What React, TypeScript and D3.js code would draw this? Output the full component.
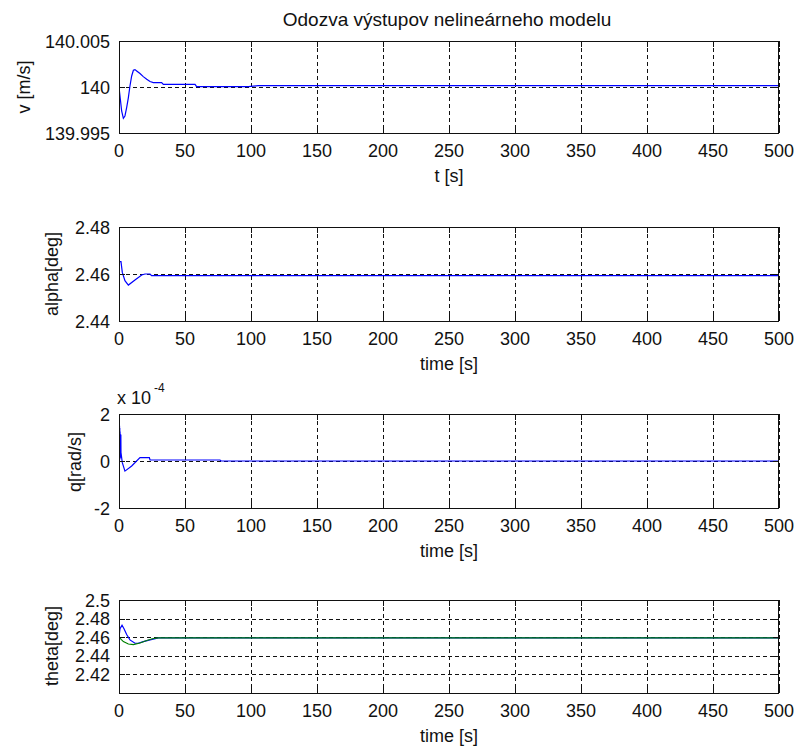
import React from 'react';
import * as d3 from 'd3';

const xTicks = [0, 50, 100, 150, 200, 250, 300, 350, 400, 450, 500];

const vTicks = [139.995, 140, 140.005];
const vTickLabels = ['139.995', '140', '140.005'];
const vTime = [0, 2.0, 3.3, 4.5, 5.8, 7.1, 8.3, 9.6, 10.9, 12.1, 13.4, 15.9, 18.4, 21, 23.5, 26, 32.3, 33.6, 57.6, 58.8, 98, 105.5, 500];
const vValues = [140, 139.99739, 139.9966, 139.99685, 139.99776, 139.99885, 140.00011, 140.0012, 140.00182, 140.00189, 140.00174, 140.00146, 140.00113, 140.00084, 140.00059, 140.00048, 140.00048, 140.00029, 140.00029, 140.00004, 140.00004, 140.00015, 140.00015];

const alphaTicks = [2.44, 2.46, 2.48];
const alphaTickLabels = ['2.44', '2.46', '2.48'];
const alphaTime = [0, 1.5, 2.5, 4.5, 7.1, 12.1, 17.2, 19.7, 23.5, 24.7, 500];
const alphaValues = [2.46525, 2.46525, 2.46068, 2.45714, 2.4553, 2.45744, 2.45957, 2.46, 2.46, 2.45927, 2.45927];

const qTicks = [-2e-4, 0, 2e-4];
const qTickLabels = ['-2', '0', '2'];
const qTime = [0, 0.1, 0.2, 0.3, 0.4, 0.5, 0.6, 0.7, 0.8, 0.9, 1.0, 1.1, 1.2, 1.3, 1.4, 1.5, 2.5, 4.5, 9.6, 15.9, 23, 23.5, 76.5, 77.3, 500];
const qValues = [1.57e-4, 0, 1.57e-4, 0.02e-4, 1.5e-4, 0.05e-4, 1.4e-4, 0.1e-4, 1.25e-4, 0.12e-4, 1.14e-4, 0.15e-4, 1.14e-4, 0.2e-4, 1.12e-4, 0.36e-4, -0.07e-4, -0.43e-4, -0.21e-4, 0.145e-4, 0.145e-4, 0.043e-4, 0.043e-4, 0, 0];

const thetaTicks = [2.42, 2.44, 2.46, 2.48, 2.5];
const thetaTickLabels = ['2.42', '2.44', '2.46', '2.48', '2.5'];
const thetaTime = [0, 0.76, 2.3, 3.8, 5.8, 8.3, 12.1, 14.6, 18.4, 23.5, 29.8, 500];
const thetaValues = [2.46, 2.4691, 2.4728, 2.4691, 2.4629, 2.4571, 2.4535, 2.4535, 2.4553, 2.4571, 2.4593, 2.4593];
const thetaRefTime = [0, 3.3, 7.1, 10.9, 15.9, 21, 26, 29.8, 500];
const thetaRefValues = [2.46, 2.4553, 2.4527, 2.452, 2.4538, 2.4564, 2.4586, 2.4593, 2.4593];

const W = 795;
const H = 746;
const LEFT = 119;
const RIGHT = 779;
const FONT = '"Liberation Sans", Arial, sans-serif';

type Series = { t: number[]; y: number[]; color: string };
type Panel = {
  top: number;
  bottom: number;
  domain: [number, number];
  ticks: number[];
  labels: string[];
  series: Series[];
  ylabel: string;
  ylabelPos: [number, number];
  xlabel: string;
  exponent?: boolean;
};

const panels: Panel[] = [
  { top: 41, bottom: 133, domain: [139.995, 140.005], ticks: vTicks, labels: vTickLabels,
    series: [{ t: vTime, y: vValues, color: '#0000ff' }], ylabel: 'v [m/s]', ylabelPos: [24, 87], xlabel: 't [s]' },
  { top: 227, bottom: 321, domain: [2.44, 2.48], ticks: alphaTicks, labels: alphaTickLabels,
    series: [{ t: alphaTime, y: alphaValues, color: '#0000ff' }], ylabel: 'alpha[deg]', ylabelPos: [52, 274], xlabel: 'time [s]' },
  { top: 414, bottom: 508, domain: [-2e-4, 2e-4], ticks: qTicks, labels: qTickLabels,
    series: [{ t: qTime, y: qValues, color: '#0000ff' }], ylabel: 'q[rad/s]', ylabelPos: [75, 462], xlabel: 'time [s]', exponent: true },
  { top: 600, bottom: 693, domain: [2.4, 2.5], ticks: thetaTicks, labels: thetaTickLabels,
    series: [
      { t: thetaTime, y: thetaValues, color: '#0000ff' },
      { t: thetaRefTime, y: thetaRefValues, color: '#008000' },
    ], ylabel: 'theta[deg]', ylabelPos: [52, 646], xlabel: 'time [s]' },
];

const x = d3.scaleLinear().domain([0, 500]).range([LEFT, RIGHT]);
const TICK_LEN = 6;

function PanelView({ p, idx }: { p: Panel; idx: number }) {
  const y = d3.scaleLinear().domain(p.domain).range([p.bottom, p.top]);
  const clipId = `clip${idx}`;
  const r = (v: number) => Math.round(v) + 0.5;
  return (
    <g>
      <defs>
        <clipPath id={clipId}>
          <rect x={LEFT} y={p.top} width={RIGHT - LEFT} height={p.bottom - p.top} />
        </clipPath>
      </defs>
      {xTicks.map((t) => (
        <line key={'gx' + t} x1={r(x(t))} x2={r(x(t))} y1={p.top} y2={p.bottom}
          stroke="#111" strokeWidth={1} strokeDasharray="4,3" shapeRendering="crispEdges" />
      ))}
      {p.ticks.map((v) => (
        <line key={'gy' + v} x1={LEFT} x2={RIGHT} y1={r(y(v))} y2={r(y(v))}
          stroke="#111" strokeWidth={1} strokeDasharray="4,3" shapeRendering="crispEdges" />
      ))}
      <g clipPath={`url(#${clipId})`}>
        {p.series.map((s, i) => {
          const pts: [number, number][] = s.t.map((t, k) => [t, s.y[k]]);
          const line = d3.line<[number, number]>().x((d) => x(d[0])).y((d) => y(d[1]));
          return <path key={i} d={line(pts) || ''} fill="none" stroke={s.color} strokeWidth={1.2} />;
        })}
      </g>
      {xTicks.map((t) => (
        <g key={'tx' + t}>
          <line x1={r(x(t))} x2={r(x(t))} y1={p.bottom} y2={p.bottom - TICK_LEN} stroke="#111" shapeRendering="crispEdges" />
          <line x1={r(x(t))} x2={r(x(t))} y1={p.top} y2={p.top + TICK_LEN} stroke="#111" shapeRendering="crispEdges" />
          <text x={x(t)} y={p.bottom + 23.5} textAnchor="middle" fontSize={18} fontFamily={FONT} fill="#111">{t}</text>
        </g>
      ))}
      {p.ticks.map((v, i) => (
        <g key={'ty' + v}>
          <line x1={LEFT} x2={LEFT + TICK_LEN} y1={r(y(v))} y2={r(y(v))} stroke="#111" shapeRendering="crispEdges" />
          <line x1={RIGHT} x2={RIGHT - TICK_LEN} y1={r(y(v))} y2={r(y(v))} stroke="#111" shapeRendering="crispEdges" />
          <text x={110} y={y(v) + 6.5} textAnchor="end" fontSize={18} fontFamily={FONT} fill="#111">{p.labels[i]}</text>
        </g>
      ))}
      <rect x={LEFT + 0.5} y={Math.round(p.top) + 0.5} width={RIGHT - LEFT - 1} height={Math.round(p.bottom) - Math.round(p.top)}
        fill="none" stroke="#111" strokeWidth={1} shapeRendering="crispEdges" />
      <text x={(LEFT + RIGHT) / 2} y={p.bottom + 49} textAnchor="middle" fontSize={18} fontFamily={FONT} fill="#111">{p.xlabel}</text>
      <text transform={`translate(${p.ylabelPos[0]},${p.ylabelPos[1]}) rotate(-90)`} dy="0.35em" textAnchor="middle"
        fontSize={18} fontFamily={FONT} fill="#111">{p.ylabel}</text>
      {p.exponent && (
        <g>
          <text x={117} y={404} fontSize={18} fontFamily={FONT} fill="#111">x 10</text>
          <text x={154} y={392} fontSize={12} fontFamily={FONT} fill="#111">-4</text>
        </g>
      )}
    </g>
  );
}

export default function App() {
  return (
    <svg width={W} height={H} style={{ position: 'absolute', left: 0, top: 0, background: '#fff' }}>
      <rect x={0} y={0} width={W} height={H} fill="#fff" />
      <text x={(LEFT + RIGHT) / 2 - 2} y={26} textAnchor="middle" fontSize={19} fontFamily={FONT} fill="#111">
        Odozva výstupov nelineárneho modelu
      </text>
      {panels.map((p, i) => (
        <PanelView key={i} p={p} idx={i} />
      ))}
    </svg>
  );
}
